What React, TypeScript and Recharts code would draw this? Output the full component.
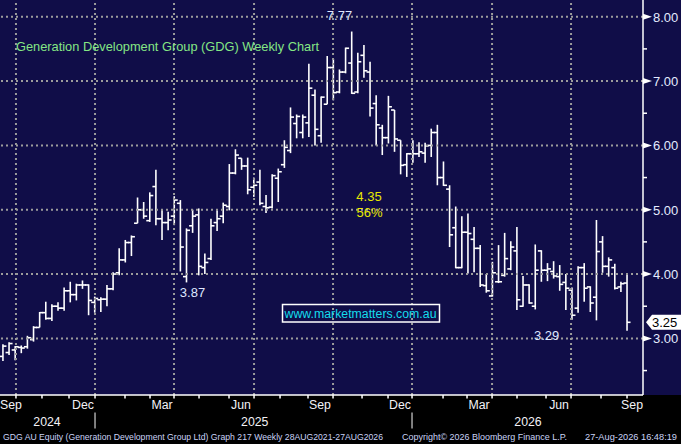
import React from 'react';
import { ComposedChart, Bar, XAxis, YAxis, ReferenceLine, ReferenceDot } from 'recharts';

// Weekly OHLC values (oldest -> newest)
const opens = [2.72, 2.78, 2.82, 2.86, 2.87, 2.98, 3.17, 3.40, 3.31, 3.50, 3.47, 3.74, 3.68, 3.83, 3.83, 3.56, 3.60, 3.61, 3.77, 4.02, 4.22, 4.49, 4.79, 5.00, 4.83, 5.36, 4.86, 4.80, 4.90, 5.10, 3.96, 4.75, 4.92, 4.10, 4.24, 4.80, 4.90, 5.05, 5.57, 5.80, 5.68, 5.35, 5.43, 5.05, 5.04, 5.49, 5.70, 5.92, 6.34, 6.20, 6.35, 6.78, 6.15, 6.64, 7.21, 6.83, 7.14, 7.28, 6.83, 7.40, 7.14, 6.65, 6.27, 6.12, 6.55, 6.08, 5.70, 5.87, 5.87, 5.88, 6.00, 6.20, 5.50, 5.32, 4.72, 4.10, 4.65, 4.54, 4.40, 3.82, 3.66, 3.88, 3.98, 4.08, 4.36, 3.50, 3.83, 3.50, 4.36, 4.06, 4.04, 3.96, 3.87, 3.75, 3.47, 4.10, 3.80, 3.64, 4.50, 4.12, 4.10, 3.80, 3.86];
const highs = [2.91, 2.94, 2.88, 2.89, 3.04, 3.19, 3.41, 3.57, 3.53, 3.56, 3.79, 3.88, 3.85, 3.90, 3.84, 3.65, 3.64, 3.83, 4.03, 4.40, 4.53, 4.60, 5.19, 5.12, 5.27, 5.62, 5.00, 4.97, 5.21, 5.15, 4.71, 5.00, 5.02, 4.32, 4.86, 4.99, 5.11, 5.71, 5.94, 5.80, 5.81, 5.50, 5.62, 5.23, 5.55, 5.64, 6.08, 6.59, 6.48, 6.48, 7.27, 6.87, 6.76, 7.39, 7.34, 7.18, 7.52, 7.77, 7.44, 7.56, 7.30, 6.78, 6.32, 6.77, 6.55, 6.08, 5.88, 6.08, 6.05, 6.04, 6.26, 6.32, 5.75, 5.38, 5.05, 4.90, 4.94, 4.73, 4.45, 4.00, 4.19, 4.45, 4.64, 4.51, 4.73, 3.97, 3.84, 4.46, 4.37, 4.17, 4.20, 4.14, 4.00, 3.79, 4.12, 4.17, 3.81, 4.84, 4.59, 4.26, 4.16, 3.88, 4.00];
const lows = [2.65, 2.74, 2.66, 2.77, 2.84, 2.95, 3.17, 3.29, 3.27, 3.43, 3.43, 3.56, 3.59, 3.77, 3.36, 3.40, 3.41, 3.50, 3.75, 3.98, 4.18, 4.28, 4.79, 4.86, 4.81, 4.76, 4.53, 4.68, 4.76, 4.04, 3.87, 4.64, 3.98, 4.00, 4.22, 4.67, 4.79, 4.99, 5.55, 5.62, 5.24, 5.20, 5.07, 4.95, 5.02, 5.12, 5.65, 5.88, 6.11, 6.11, 6.13, 6.00, 6.04, 6.64, 6.70, 6.81, 7.12, 6.80, 6.81, 7.05, 6.45, 6.00, 5.85, 6.03, 5.90, 5.55, 5.51, 5.73, 5.82, 5.73, 5.82, 5.38, 5.37, 4.42, 4.09, 4.09, 4.01, 4.03, 3.80, 3.71, 3.65, 3.86, 3.96, 4.06, 3.44, 3.49, 3.54, 3.45, 3.88, 3.89, 3.93, 3.74, 3.44, 3.29, 3.40, 3.57, 3.41, 3.28, 4.02, 3.96, 3.76, 3.72, 3.12];
const closes = [2.88, 2.92, 2.87, 2.85, 3.01, 3.17, 3.40, 3.31, 3.50, 3.47, 3.74, 3.68, 3.83, 3.83, 3.59, 3.62, 3.61, 3.77, 4.00, 4.22, 4.49, 4.58, 5.00, 4.90, 5.22, 4.86, 4.80, 4.84, 5.15, 4.42, 4.68, 4.90, 4.12, 4.18, 4.75, 4.86, 5.07, 5.57, 5.85, 5.68, 5.31, 5.38, 5.10, 5.03, 5.53, 5.59, 5.97, 6.44, 6.45, 6.44, 6.89, 6.25, 6.75, 7.21, 6.82, 7.14, 7.51, 6.81, 7.30, 7.16, 6.58, 6.32, 6.12, 6.60, 6.10, 5.69, 5.87, 5.87, 5.90, 5.99, 6.20, 5.50, 5.38, 4.61, 4.10, 4.65, 4.63, 4.40, 3.83, 3.74, 4.02, 3.88, 4.24, 4.42, 3.60, 3.83, 3.55, 4.06, 4.06, 4.08, 3.97, 3.84, 3.78, 3.36, 4.10, 3.78, 3.55, 4.35, 4.12, 4.22, 3.78, 3.85, 3.25];

// Axis positions (in week-index units)
const monthStarts = [2.12, 6.37, 10.79, 15.04, 19.94, 24.03, 27.95, 32.04, 36.94, 41.03, 45.28, 49.85, 53.94, 58.68, 62.93, 66.85, 71.92, 75.84, 79.93, 84.01, 88.75, 92.84, 97.74, 101.99];
const quarterGrid = [2.12, 15.04, 27.95, 41.03, 53.94, 66.85, 79.93, 92.84];
const yearSeparators = [15.04, 66.85];
const monthLabelPos = [1.31, 13.08, 25.99, 38.9, 51.81, 64.89, 77.8, 90.88, 102.81];
const monthLabels = ['Sep', 'Dec', 'Mar', 'Jun', 'Sep', 'Dec', 'Mar', 'Jun', 'Sep'];
const yearLabelPos = [7.19, 41.15, 85.81];
const yearLabels = ['2024', '2025', '2026'];
const priceGrid = [3, 4, 5, 6, 7, 8];
const priceTicks = [2.5, 3, 3.5, 4, 4.5, 5, 5.5, 6, 6.5, 7, 7.5, 8];
const lastPrice = 3.25;

const data = opens.map((o, i) => ({ i, open: o, high: highs[i], low: lows[i], close: closes[i] }));
const xTicks = [...monthStarts, ...monthLabelPos, ...yearLabelPos];

const NAVY = '#100d48';
const GRID = '#9c9c9c';
const FONT = '"Liberation Sans", Arial, sans-serif';

const OhlcShape = (props: any) => {
  const { x, y, width, height, payload } = props;
  if (!payload || x == null || y == null) return null;
  const cx = x + width / 2;
  const top = Math.min(y, y + height);
  const h = Math.abs(height);
  const range = payload.high - payload.low;
  const toY = (v: number) => (range === 0 ? top : top + ((payload.high - v) / range) * h);
  const yo = toY(payload.open);
  const yc = toY(payload.close);
  return (
    <g stroke="#ffffff" strokeWidth={1.6}>
      <line x1={cx} x2={cx} y1={top} y2={top + Math.max(h, 1)} />
      <line x1={cx - 3.5} x2={cx} y1={yo} y2={yo} />
      <line x1={cx} x2={cx + 3.5} y1={yc} y2={yc} />
    </g>
  );
};

const XTick = (props: any) => {
  const { x, y, payload } = props;
  const v = payload.value;
  const ml = monthLabelPos.indexOf(v);
  const yl = yearLabelPos.indexOf(v);
  if (ml >= 0) {
    return (
      <text x={x} y={y + 14} textAnchor="middle" fill="#f2f2f6" fontSize={12.3} fontFamily={FONT}>
        {monthLabels[ml]}
      </text>
    );
  }
  if (yl >= 0) {
    return (
      <text x={x} y={y + 31} textAnchor="middle" fill="#f2f2f6" fontSize={12.3} fontFamily={FONT}>
        {yearLabels[yl]}
      </text>
    );
  }
  const sep = yearSeparators.indexOf(v) >= 0;
  return (
    <g>
      <line x1={x} x2={x} y1={y} y2={y + 3.5} stroke="#ffffff" strokeWidth={1.5} />
      {sep && <line x1={x} x2={x} y1={y + 17.5} y2={y + 33.5} stroke="#a8a8a8" strokeWidth={1.5} />}
    </g>
  );
};

const YTick = (props: any) => {
  const { x, y, payload } = props;
  const v = payload.value;
  if (Number.isInteger(v)) {
    return (
      <g>
        <polygon points={`${x},${y - 3} ${x + 9},${y} ${x},${y + 3}`} fill="#ffffff" />
        <text x={x + 10} y={y + 5} fill="#e4ebff" fontSize={13} fontFamily={FONT}>
          {v.toFixed(2)}
        </text>
      </g>
    );
  }
  return <line x1={x} x2={x + 4} y1={y} y2={y} stroke="#ffffff" strokeWidth={1.5} />;
};

const textAt = (label: string, color: string) => (p: any) => (
  <text x={p.cx} y={p.cy} textAnchor="middle" fill={color} fontSize={13} fontFamily={FONT}>
    {label}
  </text>
);

const PriceTag = (p: any) => {
  const x = p.cx;
  const y = p.cy;
  return (
    <g>
      <polygon
        points={`${x + 3},${y} ${x + 9},${y - 7.5} ${x + 38},${y - 7.5} ${x + 38},${y + 7.5} ${x + 9},${y + 7.5}`}
        fill="#ffffff"
      />
      <text x={x + 9} y={y + 4.8} fill="#000000" fontSize={13} fontFamily={FONT}>
        {lastPrice.toFixed(2)}
      </text>
    </g>
  );
};

const FOOT = '#cad3f6';

export default function App() {
  return (
    <div
      style={{
        position: 'fixed',
        left: 0,
        top: 0,
        width: 681,
        height: 444,
        background: `linear-gradient(to bottom, ${NAVY} 0px, ${NAVY} 395px, #000000 395px, #000000 444px)`,
        overflow: 'hidden',
      }}
    >
      <ComposedChart width={681} height={444} data={data} margin={{ top: 0, right: 0, bottom: 0, left: 0 }}>
        <XAxis
          dataKey="i"
          type="number"
          domain={[-0.49, 104.6]}
          allowDataOverflow
          ticks={xTicks}
          interval={0}
          tick={<XTick />}
          tickLine={false}
          tickSize={0}
          tickMargin={0}
          height={49}
          axisLine={{ stroke: '#ffffff', strokeWidth: 1.5 }}
        />
        <YAxis
          orientation="right"
          type="number"
          domain={[2.12, 8.26]}
          allowDataOverflow
          ticks={priceTicks}
          interval={0}
          tick={<YTick />}
          tickLine={false}
          tickSize={0}
          tickMargin={0}
          width={38}
          axisLine={{ stroke: '#ffffff', strokeWidth: 1.5 }}
        />
        {priceGrid.map((v) => (
          <ReferenceLine key={'h' + v} y={v} stroke={GRID} strokeWidth={2} strokeDasharray="2 3" />
        ))}
        {quarterGrid.map((v) => (
          <ReferenceLine key={'v' + v} x={v} stroke={GRID} strokeWidth={2} strokeDasharray="2 3" />
        ))}
        <Bar
          dataKey={(d: any) => [d.low, d.high]}
          barSize={6}
          shape={<OhlcShape />}
          isAnimationActive={false}
        />
        <ReferenceDot x={55.0} y={7.95} r={0} ifOverflow="visible" shape={textAt('7.77', '#dfe7ff')} />
        <ReferenceDot x={30.97} y={3.65} r={0} ifOverflow="visible" shape={textAt('3.87', '#dfe7ff')} />
        <ReferenceDot x={88.84} y={2.975} r={0} ifOverflow="visible" shape={textAt('3.29', '#dfe7ff')} />
        <ReferenceDot x={59.82} y={5.135} r={0} ifOverflow="visible" shape={textAt('4.35', '#e8e800')} />
        <ReferenceDot x={59.9} y={4.887} r={0} ifOverflow="visible" shape={textAt('56%', '#e8e800')} />
        <ReferenceDot x={104.6} y={lastPrice} r={0} ifOverflow="visible" shape={<PriceTag />} />
      </ComposedChart>
      <svg
        width={681}
        height={444}
        style={{ position: 'absolute', left: 0, top: 0, pointerEvents: 'none' }}
      >
        <text x={16} y={51} fill="#84e684" fontSize={13} fontFamily={FONT} textLength={303} lengthAdjust="spacingAndGlyphs">
          Generation Development Group (GDG) Weekly Chart
        </text>
        <rect x={282.5} y={304.5} width={157} height={17.5} fill="none" stroke="#ffffff" strokeWidth={1.5} />
        <text x={284.5} y={318} fill="#14dcec" fontSize={12.5} fontFamily={FONT} textLength={152} lengthAdjust="spacingAndGlyphs">
          www.marketmatters.com.au
        </text>
        <text x={3} y={440} fill={FOOT} fontSize={8.6} fontFamily={FONT} textLength={380} lengthAdjust="spacingAndGlyphs">
          GDG AU Equity (Generation Development Group Ltd) Graph 217 Weekly 28AUG2021-27AUG2026
        </text>
        <text x={402} y={440} fill={FOOT} fontSize={8.6} fontFamily={FONT} textLength={165} lengthAdjust="spacingAndGlyphs">
          Copyright© 2026 Bloomberg Finance L.P.
        </text>
        <text x={585} y={440} fill={FOOT} fontSize={8.6} fontFamily={FONT} textLength={92} lengthAdjust="spacingAndGlyphs">
          27-Aug-2026 16:48:19
        </text>
      </svg>
    </div>
  );
}
